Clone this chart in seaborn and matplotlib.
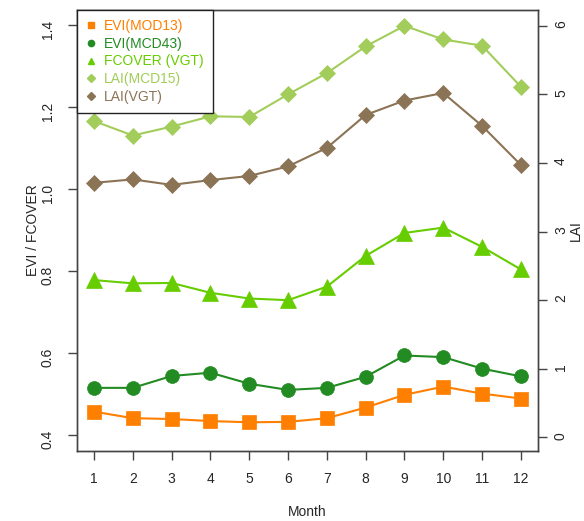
import pandas as pd
import matplotlib.pyplot as plt
import seaborn as sns
from matplotlib.lines import Line2D

# Monthly values
months = [1, 2, 3, 4, 5, 6, 7, 8, 9, 10, 11, 12]
evi_mod13 = [0.457, 0.441, 0.439, 0.434, 0.431, 0.432, 0.441, 0.467, 0.498, 0.518, 0.501, 0.489]
evi_mcd43 = [0.515, 0.515, 0.544, 0.552, 0.525, 0.510, 0.515, 0.542, 0.594, 0.590, 0.562, 0.543]
fcover_vgt = [0.778, 0.770, 0.771, 0.747, 0.733, 0.729, 0.762, 0.837, 0.893, 0.906, 0.859, 0.804]
lai_mcd15 = [4.61, 4.40, 4.53, 4.68, 4.67, 5.00, 5.31, 5.70, 6.00, 5.80, 5.71, 5.11]
lai_vgt = [3.71, 3.76, 3.68, 3.75, 3.81, 3.95, 4.22, 4.70, 4.91, 5.02, 4.54, 3.97]

labels = ['EVI(MOD13)', 'EVI(MCD43)', 'FCOVER (VGT)', 'LAI(MCD15)', 'LAI(VGT)']
colors = ['#FF7F00', '#228B22', '#66CD00', '#A2CD5A', '#8B7355']
markers = ['s', 'o', '^', 'D', 'D']
msizes = [10, 10, 11, 8.5, 8.5]

sns.set_style('white')
plt.rcParams['font.family'] = ['Liberation Sans', 'DejaVu Sans']

df = pd.DataFrame({'Month': months, labels[0]: evi_mod13, labels[1]: evi_mcd43,
                   labels[2]: fcover_vgt, labels[3]: lai_mcd15, labels[4]: lai_vgt})

fig = plt.figure(figsize=(5.84, 5.21), dpi=100)
ax = fig.add_axes([0.1318, 0.1344, 0.7894, 0.8464])
ax2 = ax.twinx()

for i, lab in enumerate(labels):
    target = ax if i < 3 else ax2
    sns.lineplot(data=df, x='Month', y=lab, ax=target, color=colors[i],
                 marker=markers[i], markersize=msizes[i], linewidth=1.5,
                 markeredgecolor=colors[i], markeredgewidth=0.5)

ax.set_xlim(0.56, 12.44)
ax.set_ylim(0.361, 1.437)
ax2.set_ylim(-0.20, 6.23)
ax.set_xticks(months)
ax.set_yticks([0.4, 0.6, 0.8, 1.0, 1.2, 1.4])
ax.set_yticklabels(['0.4', '0.6', '0.8', '1.0', '1.2', '1.4'])
ax2.set_yticks([0, 1, 2, 3, 4, 5, 6])

ax.tick_params(axis='x', length=6.5, width=1, color='#444444', pad=8.5, labelsize=10, direction='out', bottom=True)
ax.tick_params(axis='y', length=6.5, width=1, color='#444444', pad=9.5, labelsize=10, direction='out', left=True, labelrotation=90)
ax2.tick_params(axis='y', length=6.5, width=1, color='#444444', pad=5, labelsize=10, direction='out', right=True, labelrotation=90)

for a in (ax, ax2):
    for s in a.spines.values():
        s.set_color('#444444')
        s.set_linewidth(1)

ax.set_xlabel('Month', fontsize=10)
ax.set_ylabel('EVI / FCOVER', fontsize=10)
ax2.set_ylabel('LAI', fontsize=10)
ax.xaxis.set_label_coords(0.5, -0.123)
ax.yaxis.set_label_coords(-0.08, 0.5)
ax2.yaxis.set_label_coords(1.067, 0.5)

handles = [Line2D([], [], linestyle='none', marker=markers[i], color=colors[i],
                  markersize=[4.5, 4.5, 5, 4, 4][i]) for i in range(5)]
leg = ax2.legend(handles, labels, loc='upper left', borderaxespad=0, fontsize=10,
                 frameon=True, fancybox=False, framealpha=1, edgecolor='#222222',
                 handlelength=0.8, handletextpad=0.55, borderpad=0.62, labelspacing=0.28)
leg.get_frame().set_linewidth(1)
for t, c in zip(leg.get_texts(), colors):
    t.set_color(c)

fig.savefig('out.png', dpi=100)
